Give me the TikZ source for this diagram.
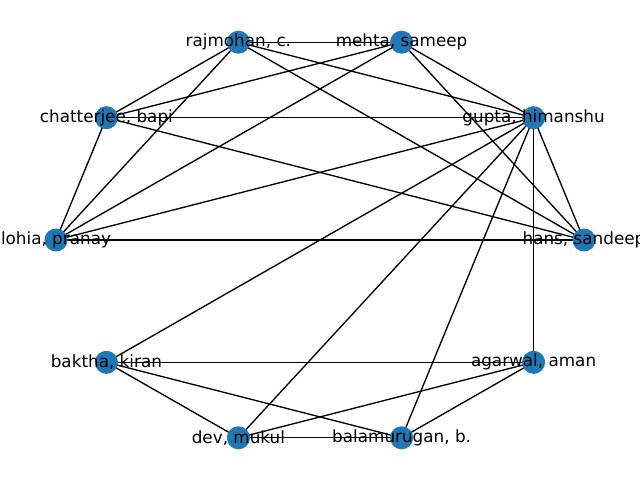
\documentclass[tikz,border=0pt]{standalone}
\usepackage{fontspec}
\setmainfont{DejaVu Sans}
\definecolor{nodeblue}{HTML}{1F77B4}
\begin{document}
\begin{tikzpicture}[x=0.75pt,y=-0.75pt,
  edge/.style={draw=black,line width=1pt},
  dot/.style={circle,fill=nodeblue,draw=none,minimum size=17.3pt,inner sep=0pt},
  lab/.style={text=black,inner sep=0pt,font=\fontsize{12.6}{14}\selectfont}]
\useasboundingbox (0,0) rectangle (640,480);
% positions (circular layout)
\coordinate (hans) at (584,240);
\coordinate (gupta) at (533.6,117.7);
\coordinate (mehta) at (401.6,42.2);
\coordinate (raj) at (238.4,42.2);
\coordinate (chat) at (106.4,117.7);
\coordinate (lohia) at (56,240);
\coordinate (baktha) at (106.4,362.3);
\coordinate (dev) at (238.4,437.8);
\coordinate (bala) at (401.6,437.8);
\coordinate (agar) at (533.6,362.3);
% edges
\draw[edge] (raj) -- (mehta);
\draw[edge] (raj) -- (chat);
\draw[edge] (raj) -- (lohia);
\draw[edge] (raj) -- (gupta);
\draw[edge] (raj) -- (hans);
\draw[edge] (mehta) -- (chat);
\draw[edge] (mehta) -- (lohia);
\draw[edge] (mehta) -- (gupta);
\draw[edge] (mehta) -- (hans);
\draw[edge] (chat) -- (gupta);
\draw[edge] (chat) -- (lohia);
\draw[edge] (chat) -- (hans);
\draw[edge] (gupta) -- (lohia);
\draw[edge] (gupta) -- (hans);
\draw[edge] (gupta) -- (baktha);
\draw[edge] (gupta) -- (dev);
\draw[edge] (gupta) -- (bala);
\draw[edge] (gupta) -- (agar);
\draw[edge] (lohia) -- (hans);
\draw[edge] (baktha) -- (agar);
\draw[edge] (baktha) -- (dev);
\draw[edge] (baktha) -- (bala);
\draw[edge] (dev) -- (bala);
\draw[edge] (dev) -- (agar);
\draw[edge] (bala) -- (agar);
% node circles
\node[dot] (nhans) at (hans) {};
\node[dot] (ngupta) at (gupta) {};
\node[dot] (nmehta) at (mehta) {};
\node[dot] (nraj) at (raj) {};
\node[dot] (nchat) at (chat) {};
\node[dot] (nlohia) at (lohia) {};
\node[dot] (nbaktha) at (baktha) {};
\node[dot] (ndev) at (dev) {};
\node[dot] (nbala) at (bala) {};
\node[dot] (nagar) at (agar) {};
% labels
\node[lab] (lhans) at (hans) {hans, sandeep};
\node[lab] (lgupta) at (gupta) {gupta, himanshu};
\node[lab] (lmehta) at (mehta) {mehta, sameep};
\node[lab] (lraj) at (raj) {rajmohan, c.};
\node[lab] (lchat) at (chat) {chatterjee, bapi};
\node[lab] (llohia) at (lohia) {lohia, pranay};
\node[lab] (lbaktha) at (baktha) {baktha, kiran};
\node[lab] (ldev) at (dev) {dev, mukul};
\node[lab] (lbala) at (bala) {balamurugan, b.};
\node[lab] (lagar) at (agar) {agarwal, aman};
\end{tikzpicture}
\end{document}
